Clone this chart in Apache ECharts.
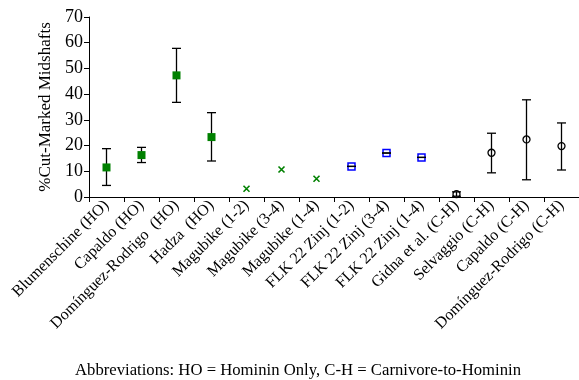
<!DOCTYPE html>
<html>
<head>
<meta charset="utf-8">
<script src="https://cdn.jsdelivr.net/npm/echarts@6/dist/echarts.min.js"></script>
<style>html,body{margin:0;padding:0;background:#fff;}#c{width:579px;height:380px;}</style>
</head>
<body>
<div id="c"></div>
<script>
const categories = ['Blumenschine (HO)', 'Capaldo (HO)', 'Domínguez-Rodrigo  (HO)', 'Hadza  (HO)',
  'Magubike (1-2)', 'Magubike (3-4)', 'Magubike (1-4)',
  'FLK 22 Zinj (1-2)', 'FLK 22 Zinj (3-4)', 'FLK 22 Zinj (1-4)',
  'Gidna et al. (C-H)', 'Selvaggio (C-H)', 'Capaldo (C-H)', 'Domínguez-Rodrigo (C-H)'];
const values  = [11.5, 16.3, 47.3, 23.3, 3.2, 10.7, 7.1, 11.9, 17.1, 15.4, 1.1, 17.2, 22.4, 19.8];
const errLow  = [4.5, 13.4, 36.8, 14.0, null, null, null, 11.9, 17.1, 15.4, 0.3, 9.4, 6.7, 10.5];
const errHigh = [18.8, 19.3, 57.8, 32.8, null, null, null, 11.9, 17.1, 15.4, 2.0, 24.8, 37.8, 28.8];
const markerType = ['filledSquare','filledSquare','filledSquare','filledSquare',
  'cross','cross','cross','openSquare','openSquare','openSquare',
  'circle','circle','circle','circle'];
const yTicks = [0, 10, 20, 30, 40, 50, 60, 70];

const FONT = '"Liberation Serif", "Times New Roman", serif';
function pick(type) {
  return values.map((v, i) => markerType[i] === type ? [i, v] : null).filter(d => d);
}
const errData = values.map((v, i) => errLow[i] == null ? null : [i, errLow[i], errHigh[i]]).filter(d => d);

const chart = echarts.init(document.getElementById('c'), null, {renderer: 'canvas'});
chart.setOption({
  animation: false,
  backgroundColor: '#fff',
  grid: {left: 89, right: 0, top: 17, bottom: 183, containLabel: false},
  xAxis: {
    type: 'category', data: categories, boundaryGap: true,
    axisLine: {lineStyle: {color: '#000', width: 1}},
    axisTick: {show: true, interval: 0, length: 5, lineStyle: {color: '#000'}},
    axisLabel: {interval: 0, rotate: 45, color: '#000', fontFamily: FONT, fontSize: 16, margin: 6},
    splitLine: {show: false}
  },
  yAxis: {
    type: 'value', min: yTicks[0], max: yTicks[yTicks.length - 1], interval: 10,
    name: '%Cut-Marked Midshafts', nameLocation: 'middle', nameGap: 34,
    nameTextStyle: {color: '#000', fontFamily: FONT, fontSize: 17},
    axisLine: {show: true, lineStyle: {color: '#000', width: 1}},
    axisTick: {show: true, length: 5, lineStyle: {color: '#000'}},
    axisLabel: {color: '#000', fontFamily: FONT, fontSize: 18, margin: 6},
    splitLine: {show: false}
  },
  graphic: [{
    type: 'text', left: 75, top: 362,
    style: {text: 'Abbreviations: HO = Hominin Only, C-H = Carnivore-to-Hominin',
      font: '16.7px ' + FONT, fill: '#000'}
  }],
  series: [
    {
      type: 'custom', z: 1, data: errData,
      renderItem: function (params, api) {
        const x = api.value(0);
        const lo = api.coord([x, api.value(1)]);
        const hi = api.coord([x, api.value(2)]);
        const w = 4.5;
        const st = {stroke: '#000', lineWidth: 1.3};
        return {type: 'group', children: [
          {type: 'line', shape: {x1: lo[0], y1: lo[1], x2: hi[0], y2: hi[1]}, style: st},
          {type: 'line', shape: {x1: lo[0] - w, y1: lo[1], x2: lo[0] + w, y2: lo[1]}, style: st},
          {type: 'line', shape: {x1: hi[0] - w, y1: hi[1], x2: hi[0] + w, y2: hi[1]}, style: st}
        ]};
      }
    },
    {type: 'scatter', z: 3, data: pick('filledSquare'), symbol: 'rect', symbolSize: 8,
      itemStyle: {color: '#008000', opacity: 1}},
    {type: 'scatter', z: 3, data: pick('cross'), symbol: 'path://M0,0L10,10M10,0L0,10', symbolSize: 6,
      itemStyle: {color: 'rgba(0,0,0,0)', borderColor: '#008000', borderWidth: 1.6, opacity: 1}},
    {type: 'scatter', z: 0, data: pick('openSquare'), symbol: 'rect', symbolSize: 7,
      itemStyle: {color: 'rgba(0,0,0,0)', borderColor: '#0000ff', borderWidth: 1.5, opacity: 1}},
    {type: 'scatter', z: 3, data: pick('circle'), symbol: 'circle', symbolSize: 7,
      itemStyle: {color: 'rgba(0,0,0,0)', borderColor: '#000', borderWidth: 1.3, opacity: 1}}
  ]
});
</script>
</body>
</html>
